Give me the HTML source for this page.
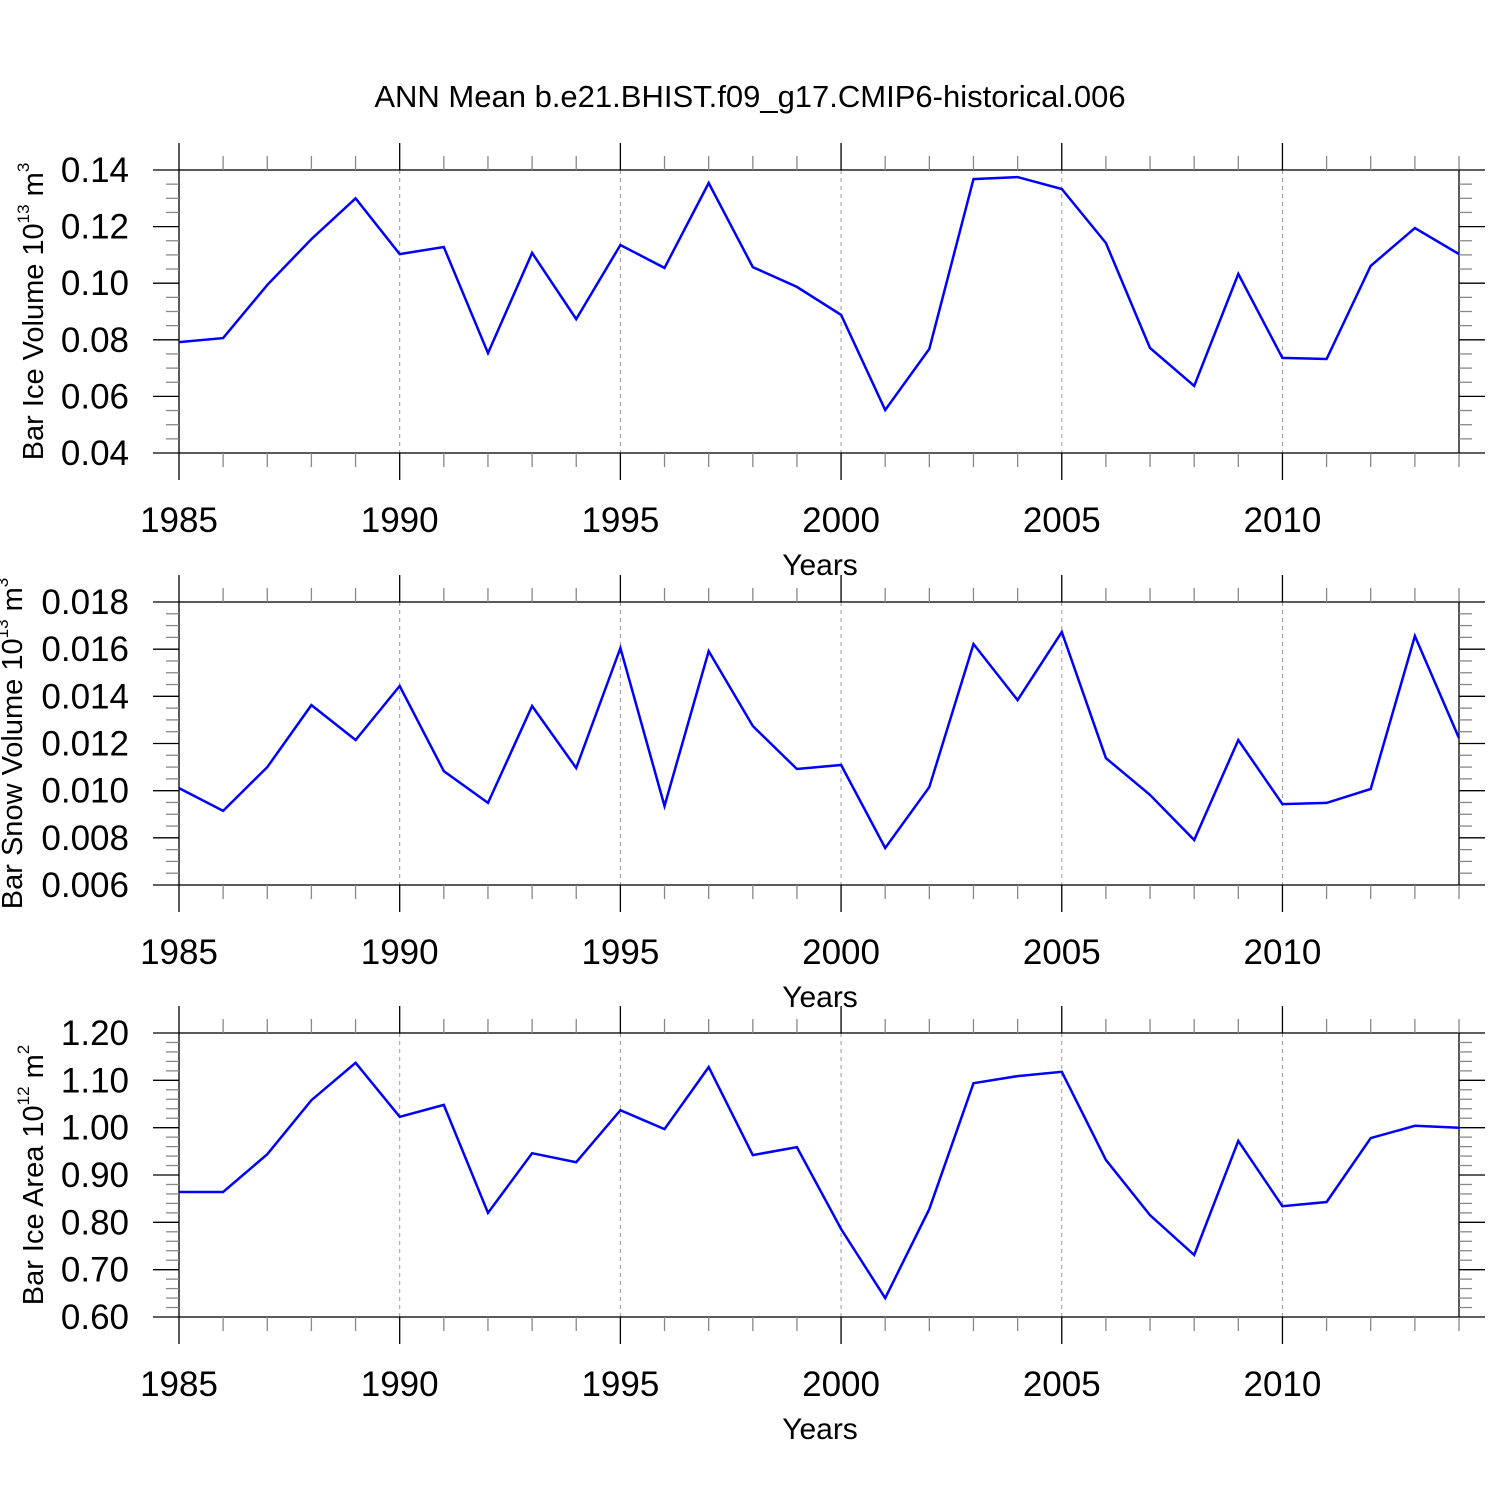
<!DOCTYPE html>
<html><head><meta charset="utf-8"><style>
body{margin:0;background:#fff}
svg{display:block;font-family:"Liberation Sans",sans-serif}
</style></head><body>
<svg id="chart" width="1500" height="1500" xmlns="http://www.w3.org/2000/svg">
<text x="750" y="107" font-size="31" text-anchor="middle">ANN Mean b.e21.BHIST.f09_g17.CMIP6-historical.006</text>
</svg>
<script>
const years = [1985,1986,1987,1988,1989,1990,1991,1992,1993,1994,1995,1996,1997,1998,1999,2000,2001,2002,2003,2004,2005,2006,2007,2008,2009,2010,2011,2012,2013,2014];
const iceVolume = [0.0792,0.0806,0.0994,0.1156,0.130,0.1103,0.1128,0.0753,0.1107,0.0873,0.1135,0.1054,0.1354,0.1057,0.0987,0.0888,0.0552,0.0768,0.1368,0.1375,0.1333,0.1142,0.0771,0.0637,0.1033,0.0736,0.0732,0.1061,0.1195,0.1103];
const snowVolume = [0.01011,0.00914,0.0110,0.01363,0.01215,0.01444,0.01083,0.00948,0.01359,0.01096,0.01605,0.00935,0.01592,0.01274,0.01092,0.01109,0.00757,0.01015,0.01622,0.01384,0.01673,0.01138,0.00982,0.00791,0.01215,0.00943,0.00948,0.01007,0.01656,0.01223];
const iceArea = [0.864,0.864,0.944,1.058,1.137,1.023,1.048,0.820,0.946,0.927,1.037,0.997,1.128,0.942,0.959,0.786,0.640,0.828,1.094,1.109,1.118,0.932,0.815,0.731,0.972,0.834,0.843,0.978,1.004,1.000];
const xTickLabels = [1985,1990,1995,2000,2005,2010];
const iceVolTicks = ["0.04","0.06","0.08","0.10","0.12","0.14"];
const snowVolTicks = ["0.006","0.008","0.010","0.012","0.014","0.016","0.018"];
const iceAreaTicks = ["0.60","0.70","0.80","0.90","1.00","1.10","1.20"];

const NS="http://www.w3.org/2000/svg";
const svg=document.getElementById('chart');
function mk(tag,attrs,parent){const e=document.createElementNS(NS,tag);for(const k in attrs)e.setAttribute(k,attrs[k]);(parent||svg).appendChild(e);return e;}
const X0=179,X1=1459;
const xs=y=>X0+(y-1985)*(X1-X0)/(2014-1985);

function panel(name,top,bot,vals,ticks,minorDiv,titleHTML,titleX){
  const g=mk('g',{});
  
  
  const ymin=parseFloat(ticks[0]),ymax=parseFloat(ticks[ticks.length-1]);
  const ys=v=>bot-(v-ymin)/(ymax-ymin)*(bot-top);
  xTickLabels.forEach(y=>{if(y>1985){const l=mk('line',{x1:xs(y),x2:xs(y),y1:top,y2:bot,stroke:'#999','stroke-width':1,'stroke-dasharray':'4,4'},g);
    }});
  mk('rect',{x:X0,y:top,width:X1-X0,height:bot-top,fill:'none',stroke:'#000','stroke-width':1.3},g);
  years.forEach(y=>{const x=xs(y);const major=xTickLabels.includes(y);const L=major?27:14;
    mk('line',{x1:x,x2:x,y1:top-L,y2:top,stroke:major?'#000':'#888','stroke-width':1.3},g);
    mk('line',{x1:x,x2:x,y1:bot,y2:bot+L,stroke:major?'#000':'#888','stroke-width':1.3},g);});
  xTickLabels.forEach(y=>{const t=mk('text',{x:xs(y),y:bot+79,'font-size':35,'text-anchor':'middle'},g);t.textContent=y;
    });
  const step=parseFloat(ticks[1])-ymin;
  ticks.forEach((lab,i)=>{const v=parseFloat(lab);const y=ys(v);
    mk('line',{x1:X0-26,x2:X0,y1:y,y2:y,stroke:'#000','stroke-width':1.3},g);
    mk('line',{x1:X1,x2:X1+26,y1:y,y2:y,stroke:'#000','stroke-width':1.3},g);
    const t=mk('text',{x:129,y:y+12,'font-size':35,'text-anchor':'end'},g);t.textContent=lab;
    
    if(i<ticks.length-1){for(let k=1;k<minorDiv;k++){const yy=ys(v+step*k/minorDiv);
      mk('line',{x1:X0-13,x2:X0,y1:yy,y2:yy,stroke:'#888','stroke-width':1.3},g);
      mk('line',{x1:X1,x2:X1+13,y1:yy,y2:yy,stroke:'#888','stroke-width':1.3},g);}}
  });
  const pts=years.map((y,i)=>xs(y).toFixed(1)+','+ys(vals[i]).toFixed(1)).join(' ');
  const pl=mk('polyline',{points:pts,fill:'none',stroke:'#0000ff','stroke-width':2.5,'stroke-linejoin':'miter'},g);
  
  const xt=mk('text',{x:820,y:bot+122,'font-size':30,'text-anchor':'middle'},g);xt.textContent='Years';
  
  const cy=(top+bot)/2;
  const yt=mk('text',{x:0,y:0,'font-size':29,'text-anchor':'middle',transform:`translate(${titleX},${cy}) rotate(-90)`},g);
  yt.innerHTML=titleHTML;
  
}
panel('ice-volume',170,453,iceVolume,iceVolTicks,4,'Bar Ice Volume 10<tspan dy="-14" font-size="17">13</tspan><tspan dy="14"> m</tspan><tspan dy="-14" font-size="17">3</tspan>',43);
panel('snow-volume',602,885,snowVolume,snowVolTicks,4,'Bar Snow Volume 10<tspan dy="-14" font-size="17">13</tspan><tspan dy="14"> m</tspan><tspan dy="-14" font-size="17">3</tspan>',22);
panel('ice-area',1033,1317,iceArea,iceAreaTicks,5,'Bar Ice Area 10<tspan dy="-14" font-size="17">12</tspan><tspan dy="14"> m</tspan><tspan dy="-14" font-size="17">2</tspan>',43);
</script>
</body></html>
